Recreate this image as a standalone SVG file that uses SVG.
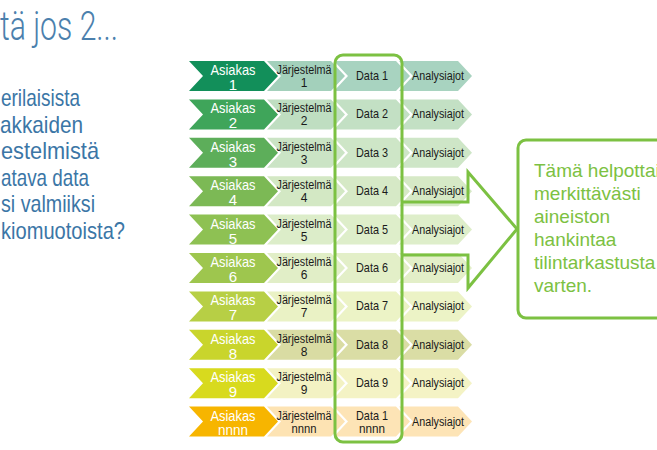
<svg xmlns="http://www.w3.org/2000/svg" xmlns:xlink="http://www.w3.org/1999/xlink" width="657" height="450" viewBox="0 0 657 450">
<style>
.t{font-family:"Liberation Sans",Arial,sans-serif;}
.as{font-size:15px;fill:#ffffff;text-anchor:middle;}
.js{font-size:12px;fill:#1a1a1a;text-anchor:middle;}
.da{font-size:13px;fill:#1a1a1a;text-anchor:middle;}
.an{font-size:12.5px;fill:#1a1a1a;text-anchor:middle;}
.left{font-size:24px;fill:#3b76a6;}
.call{font-size:19px;fill:#7cc142;}
.gl{fill:none;stroke:#7cc142;stroke-width:3;}
</style>
<defs>
<path id="c1" d="M189,0 L264,0 L278,15 L264,30 L189,30 L203,15 Z"/>
<path id="c2" d="M267,0 L331,0 L345,15 L331,30 L267,30 L281,15 Z"/>
<path id="c3" d="M334,0 L396,0 L410,15 L396,30 L334,30 L348,15 Z"/>
<path id="c4" d="M399,0 L458,0 L472,15 L458,30 L399,30 L413,15 Z"/>
</defs>
<rect width="657" height="450" fill="#ffffff"/>
<g id="title">
<text class="t" x="0" y="40" font-size="40" fill="#4b80ad" textLength="118" lengthAdjust="spacingAndGlyphs" style="font-family:Roboto,'Liberation Sans',sans-serif;font-weight:300">tä jos 2...</text>
</g>
<g id="left-text" class="t left">
<text x="1" y="106" textLength="79" lengthAdjust="spacingAndGlyphs">erilaisista</text>
<text x="0" y="133" textLength="83" lengthAdjust="spacingAndGlyphs">akkaiden</text>
<text x="1" y="159" textLength="98" lengthAdjust="spacingAndGlyphs">estelmistä</text>
<text x="1" y="186" textLength="88" lengthAdjust="spacingAndGlyphs">atava data</text>
<text x="1" y="212" textLength="94" lengthAdjust="spacingAndGlyphs">si valmiiksi</text>
<text x="1" y="239" textLength="124" lengthAdjust="spacingAndGlyphs">kiomuotoista?</text>
</g>
<g id="row1" transform="translate(0,61)">
<use xlink:href="#c1" fill="#128f5a"/><use xlink:href="#c2" fill="#a3d0bb"/><use xlink:href="#c3" fill="#a8d3c0"/><use xlink:href="#c4" fill="#a8d3c0"/>
<text class="t as" x="233" y="14" textLength="45" lengthAdjust="spacingAndGlyphs">Asiakas</text><text class="t as" x="233" y="29">1</text>
<text class="t js" x="304" y="13" textLength="55" lengthAdjust="spacingAndGlyphs">Järjestelmä</text><text class="t js" x="304" y="26">1</text>
<text class="t da" x="372" y="19" textLength="32" lengthAdjust="spacingAndGlyphs">Data 1</text>
<text class="t an" x="438" y="19" textLength="52" lengthAdjust="spacingAndGlyphs">Analysiajot</text>
</g>
<g id="row2" transform="translate(0,99.4)">
<use xlink:href="#c1" fill="#3fa55a"/><use xlink:href="#c2" fill="#bfdec1"/><use xlink:href="#c3" fill="#c3e0c4"/><use xlink:href="#c4" fill="#c3e0c4"/>
<text class="t as" x="233" y="14" textLength="45" lengthAdjust="spacingAndGlyphs">Asiakas</text><text class="t as" x="233" y="29">2</text>
<text class="t js" x="304" y="13" textLength="55" lengthAdjust="spacingAndGlyphs">Järjestelmä</text><text class="t js" x="304" y="26">2</text>
<text class="t da" x="372" y="19" textLength="32" lengthAdjust="spacingAndGlyphs">Data 2</text>
<text class="t an" x="438" y="19" textLength="52" lengthAdjust="spacingAndGlyphs">Analysiajot</text>
</g>
<g id="row3" transform="translate(0,137.8)">
<use xlink:href="#c1" fill="#5dae5a"/><use xlink:href="#c2" fill="#cbe4c5"/><use xlink:href="#c3" fill="#cee6c7"/><use xlink:href="#c4" fill="#cee6c7"/>
<text class="t as" x="233" y="14" textLength="45" lengthAdjust="spacingAndGlyphs">Asiakas</text><text class="t as" x="233" y="29">3</text>
<text class="t js" x="304" y="13" textLength="55" lengthAdjust="spacingAndGlyphs">Järjestelmä</text><text class="t js" x="304" y="26">3</text>
<text class="t da" x="372" y="19" textLength="32" lengthAdjust="spacingAndGlyphs">Data 3</text>
<text class="t an" x="438" y="19" textLength="52" lengthAdjust="spacingAndGlyphs">Analysiajot</text>
</g>
<g id="row4" transform="translate(0,176.2)">
<use xlink:href="#c1" fill="#7cb955"/><use xlink:href="#c2" fill="#d3e8c4"/><use xlink:href="#c3" fill="#d6e9c6"/><use xlink:href="#c4" fill="#d6e9c6"/>
<text class="t as" x="233" y="14" textLength="45" lengthAdjust="spacingAndGlyphs">Asiakas</text><text class="t as" x="233" y="29">4</text>
<text class="t js" x="304" y="13" textLength="55" lengthAdjust="spacingAndGlyphs">Järjestelmä</text><text class="t js" x="304" y="26">4</text>
<text class="t da" x="372" y="19" textLength="32" lengthAdjust="spacingAndGlyphs">Data 4</text>
<text class="t an" x="438" y="19" textLength="52" lengthAdjust="spacingAndGlyphs">Analysiajot</text>
</g>
<g id="row5" transform="translate(0,214.6)">
<use xlink:href="#c1" fill="#8ec153"/><use xlink:href="#c2" fill="#dcedc9"/><use xlink:href="#c3" fill="#deeeca"/><use xlink:href="#c4" fill="#deeeca"/>
<text class="t as" x="233" y="14" textLength="45" lengthAdjust="spacingAndGlyphs">Asiakas</text><text class="t as" x="233" y="29">5</text>
<text class="t js" x="304" y="13" textLength="55" lengthAdjust="spacingAndGlyphs">Järjestelmä</text><text class="t js" x="304" y="26">5</text>
<text class="t da" x="372" y="19" textLength="32" lengthAdjust="spacingAndGlyphs">Data 5</text>
<text class="t an" x="438" y="19" textLength="52" lengthAdjust="spacingAndGlyphs">Analysiajot</text>
</g>
<g id="row6" transform="translate(0,253)">
<use xlink:href="#c1" fill="#9ec64e"/><use xlink:href="#c2" fill="#e1eec7"/><use xlink:href="#c3" fill="#e3efc8"/><use xlink:href="#c4" fill="#e3efc8"/>
<text class="t as" x="233" y="14" textLength="45" lengthAdjust="spacingAndGlyphs">Asiakas</text><text class="t as" x="233" y="29">6</text>
<text class="t js" x="304" y="13" textLength="55" lengthAdjust="spacingAndGlyphs">Järjestelmä</text><text class="t js" x="304" y="26">6</text>
<text class="t da" x="372" y="19" textLength="32" lengthAdjust="spacingAndGlyphs">Data 6</text>
<text class="t an" x="438" y="19" textLength="52" lengthAdjust="spacingAndGlyphs">Analysiajot</text>
</g>
<g id="row7" transform="translate(0,291.4)">
<use xlink:href="#c1" fill="#b7cf45"/><use xlink:href="#c2" fill="#eaf2c5"/><use xlink:href="#c3" fill="#ecf3c6"/><use xlink:href="#c4" fill="#ecf3c6"/>
<text class="t as" x="233" y="14" textLength="45" lengthAdjust="spacingAndGlyphs">Asiakas</text><text class="t as" x="233" y="29">7</text>
<text class="t js" x="304" y="13" textLength="55" lengthAdjust="spacingAndGlyphs">Järjestelmä</text><text class="t js" x="304" y="26">7</text>
<text class="t da" x="372" y="19" textLength="32" lengthAdjust="spacingAndGlyphs">Data 7</text>
<text class="t an" x="438" y="19" textLength="52" lengthAdjust="spacingAndGlyphs">Analysiajot</text>
</g>
<g id="row8" transform="translate(0,329.8)">
<use xlink:href="#c1" fill="#c9d52c"/><use xlink:href="#c2" fill="#d9dca3"/><use xlink:href="#c3" fill="#dadda5"/><use xlink:href="#c4" fill="#dadda5"/>
<text class="t as" x="233" y="14" textLength="45" lengthAdjust="spacingAndGlyphs">Asiakas</text><text class="t as" x="233" y="29">8</text>
<text class="t js" x="304" y="13" textLength="55" lengthAdjust="spacingAndGlyphs">Järjestelmä</text><text class="t js" x="304" y="26">8</text>
<text class="t da" x="372" y="19" textLength="32" lengthAdjust="spacingAndGlyphs">Data 8</text>
<text class="t an" x="438" y="19" textLength="52" lengthAdjust="spacingAndGlyphs">Analysiajot</text>
</g>
<g id="row9" transform="translate(0,368.2)">
<use xlink:href="#c1" fill="#d8da1e"/><use xlink:href="#c2" fill="#f3f2c3"/><use xlink:href="#c3" fill="#f4f3c5"/><use xlink:href="#c4" fill="#f4f3c5"/>
<text class="t as" x="233" y="14" textLength="45" lengthAdjust="spacingAndGlyphs">Asiakas</text><text class="t as" x="233" y="29">9</text>
<text class="t js" x="304" y="13" textLength="55" lengthAdjust="spacingAndGlyphs">Järjestelmä</text><text class="t js" x="304" y="26">9</text>
<text class="t da" x="372" y="19" textLength="32" lengthAdjust="spacingAndGlyphs">Data 9</text>
<text class="t an" x="438" y="19" textLength="52" lengthAdjust="spacingAndGlyphs">Analysiajot</text>
</g>
<g id="row10" transform="translate(0,406.6)">
<use xlink:href="#c1" fill="#f7b500"/><use xlink:href="#c2" fill="#fde3b3"/><use xlink:href="#c3" fill="#fde4b6"/><use xlink:href="#c4" fill="#fde4b6"/>
<text class="t as" x="233" y="14" textLength="45" lengthAdjust="spacingAndGlyphs">Asiakas</text><text class="t as" x="233" y="28" textLength="30" lengthAdjust="spacingAndGlyphs">nnnn</text>
<text class="t js" x="304" y="13" textLength="55" lengthAdjust="spacingAndGlyphs">Järjestelmä</text><text class="t js" x="304" y="26" textLength="25" lengthAdjust="spacingAndGlyphs">nnnn</text>
<text class="t da" x="372" y="13" textLength="32" lengthAdjust="spacingAndGlyphs">Data 1</text><text class="t da" x="372" y="26" textLength="26" lengthAdjust="spacingAndGlyphs">nnnn</text>
<text class="t an" x="438" y="19" textLength="52" lengthAdjust="spacingAndGlyphs">Analysiajot</text>
</g>
<g id="connectors">
<rect id="data-frame" class="gl" x="335" y="55" width="67" height="387" rx="8"/>
<polyline id="big-arrow" class="gl" points="402,202 468,202 468,172 517,229 468,288 468,255 402,255"/>
</g>
<g id="callout">
<rect class="gl" x="518" y="140" width="160" height="178" rx="8"/>
<g class="t call">
<text x="534" y="177">Tämä helpottais</text>
<text x="534" y="200">merkittävästi</text>
<text x="534" y="223">aineiston</text>
<text x="534" y="246">hankintaa</text>
<text x="534" y="269">tilintarkastusta</text>
<text x="534" y="292">varten.</text>
</g>
</g>
</svg>
